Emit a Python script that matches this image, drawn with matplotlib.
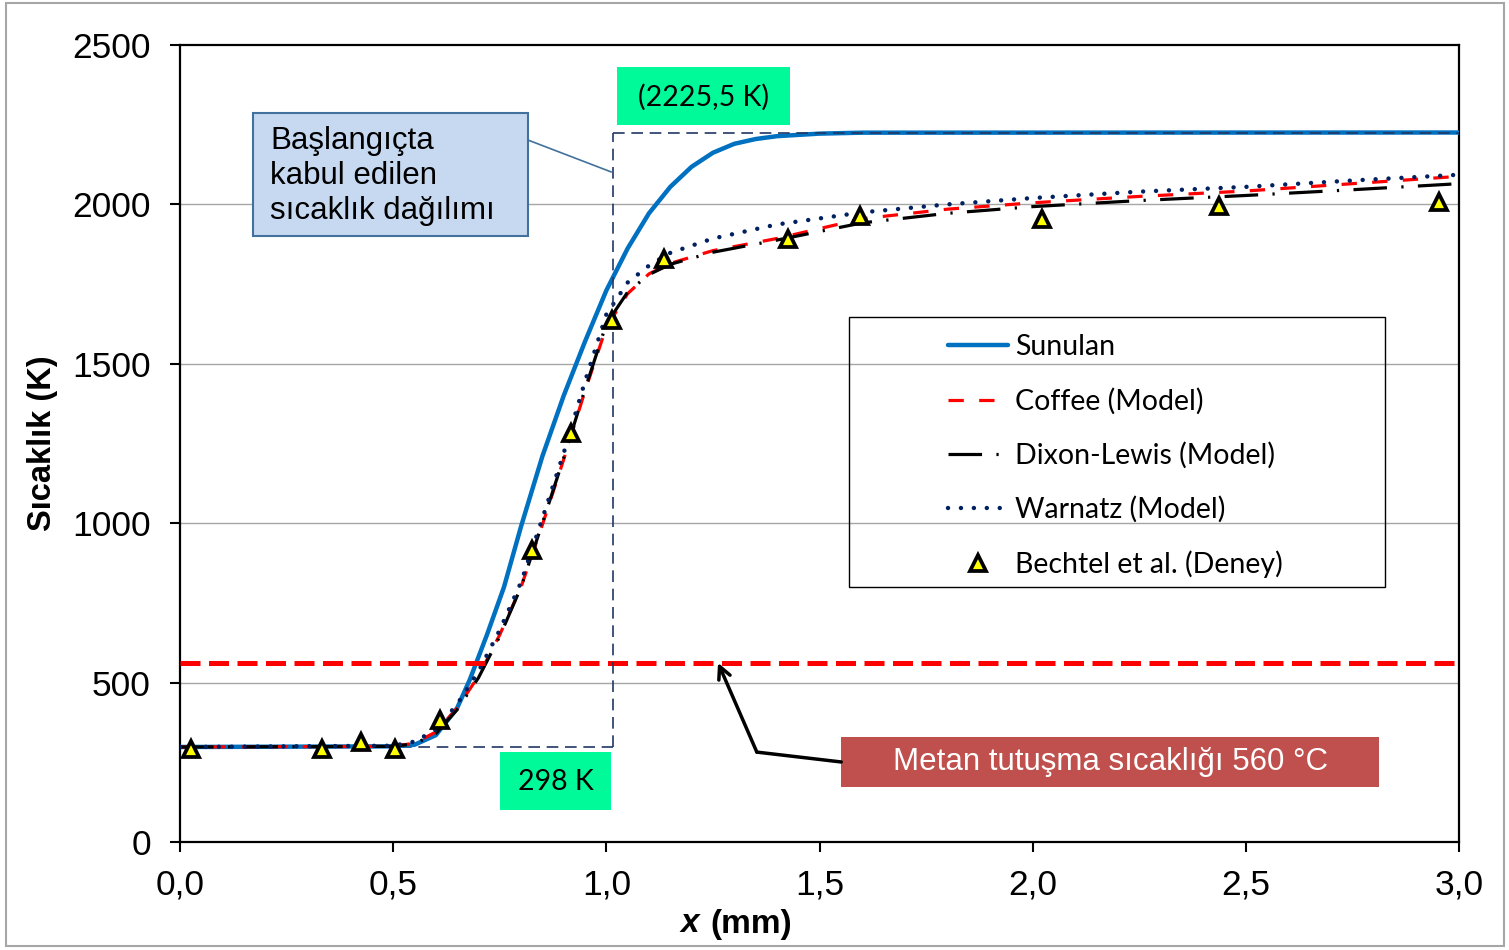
## Temperature profile of a premixed methane flame:
## present model vs. literature models and Bechtel et al. measurements.

import matplotlib.pyplot as plt
from matplotlib.patches import Rectangle
from matplotlib.lines import Line2D


## ---- data ----

x_sunulan = [0.00, 0.50, 0.55, 0.60, 0.65, 0.68, 0.72, 0.76, 0.80, 0.85, 0.90,
             0.95, 1.00, 1.05, 1.10, 1.15, 1.20, 1.25, 1.30, 1.35, 1.40, 1.50, 1.60, 3.00]
T_sunulan = [298, 300, 305, 335, 420, 510, 650, 800, 990, 1210, 1400,
             1570, 1730, 1862, 1972, 2055, 2118, 2162, 2190, 2205, 2214, 2222, 2225, 2225.5]

x_model = [0.00, 0.50, 0.55, 0.60, 0.65, 0.70, 0.75, 0.80, 0.85, 0.90, 0.95, 1.00,
           1.05, 1.10, 1.15, 1.25, 1.40, 1.60, 1.80, 2.00, 2.25, 2.50, 2.75, 3.00]
T_coffee = [298, 300, 310, 345, 420, 520, 650, 800, 995, 1200, 1415, 1615,
            1720, 1782, 1815, 1855, 1893, 1955, 1985, 2005, 2025, 2042, 2065, 2088]
T_dixon = [298, 300, 308, 340, 415, 515, 645, 800, 1000, 1205, 1420, 1625,
           1725, 1780, 1812, 1850, 1888, 1942, 1972, 1993, 2012, 2028, 2046, 2065]
T_warnatz = [298, 302, 315, 352, 432, 535, 665, 815, 1015, 1220, 1445, 1655,
             1755, 1808, 1848, 1893, 1937, 1975, 2000, 2020, 2040, 2055, 2075, 2093]

x_bechtel = [0.026, 0.333, 0.425, 0.504, 0.610, 0.826, 0.917, 1.013, 1.135,
             1.426, 1.595, 2.022, 2.437, 2.953]
T_bechtel = [292, 292, 314, 292, 383, 916, 1283, 1637, 1829,
             1891, 1964, 1954, 1995, 2007]

T_initial = 298        # K
T_adiabatic = 2225.5   # K
x_front = 1.016        # mm
T_ignition = 560

labels = ['Sunulan', 'Coffee (Model)', 'Dixon-Lewis (Model)',
          'Warnatz (Model)', 'Bechtel et al. (Deney)']

arial = ['Liberation Sans', 'DejaVu Sans']
calibri = ['Lato', 'DejaVu Sans']

fig = plt.figure(figsize=(15.09, 9.5), dpi=100)
ax = fig.add_axes([180/1509, 108/950, 1279/1509, 797/950])

# outer grey frame of the picture
fig.patches.append(Rectangle((6/1509, 4/950), 1498/1509, 943/950, transform=fig.transFigure,
                             fill=False, edgecolor='#A6A6A6', lw=1.5))

st_sun = dict(color='#0070C0', lw=3.2, solid_capstyle='round')
st_cof = dict(color='#FF0000', lw=2.3, linestyle=(0, (4.8, 4.8)))
st_dix = dict(color='black', lw=2.3, linestyle=(0, (10.5, 4.5, 0.7, 4.5)))
st_war = dict(color='#002060', lw=3.2, linestyle=(0, (0.01, 2.9)), dash_capstyle='round')
st_bec = dict(linestyle='none', marker='^', ms=11.5, mfc='#FFFF00', mec='black', mew=2.7)

ax.plot(x_sunulan, T_sunulan, zorder=3, **st_sun)
ax.plot(x_model, T_coffee, zorder=4, **st_cof)
ax.plot(x_model, T_dixon, zorder=4, **st_dix)
ax.plot(x_model, T_warnatz, zorder=4, **st_war)
ax.axhline(T_ignition, color='#FF0000', lw=3.6, linestyle=(0, (4.0, 1.7)), zorder=5)

# dashed guide lines of the assumed initial profile
dash_kw = dict(color='#1F3864', lw=1.2, linestyle=(0, (7, 4)))
ax.plot([0, x_front], [T_initial, T_initial], zorder=2, **dash_kw)
ax.plot([x_front, x_front], [T_initial, T_adiabatic], zorder=6, **dash_kw)
ax.plot([x_front, 3.0], [T_adiabatic, T_adiabatic], zorder=6, **dash_kw)

ax.plot(x_bechtel, T_bechtel, zorder=7, clip_on=False, **st_bec)

ax.set_xlim(0, 3)
ax.set_ylim(0, 2500)
ax.set_xticks([0, 0.5, 1.0, 1.5, 2.0, 2.5, 3.0])
ax.set_xticklabels(['0,0', '0,5', '1,0', '1,5', '2,0', '2,5', '3,0'])
ax.set_yticks([0, 500, 1000, 1500, 2000, 2500])
for tl in ax.get_xticklabels() + ax.get_yticklabels():
    tl.set_family(arial)
    tl.set_fontsize(25.5)
ax.tick_params(direction='out', length=7, width=1.5, pad=12)
ax.tick_params(axis='y', pad=14)
for s in ax.spines.values():
    s.set_linewidth(1.6)
for g in [500, 1000, 1500, 2000]:
    ax.axhline(g, color='#A6A6A6', lw=1, zorder=1)

ax.set_ylabel('Sıcaklık (K)', family=arial, fontsize=23.5, fontweight='bold', labelpad=10)

# x label: italic x, placed left of the axis centre as in the original
fig.text(680/1509, 1 - 924/950, 'x', family=arial, fontsize=24, fontweight='bold',
         style='italic', ha='left', va='center')
fig.text(792/1509, 1 - 924/950, '(mm)', family=arial, fontsize=24, fontweight='bold',
         ha='right', va='center')

# legend without frame, frame drawn separately
handles = [Line2D([], [], **st_sun), Line2D([], [], **st_cof), Line2D([], [], **st_dix),
           Line2D([], [], **st_war), Line2D([], [], **st_bec)]
leg = ax.legend(handles, labels, loc='upper left', bbox_to_anchor=(0.6005, 0.637),
                frameon=False, prop={'family': calibri, 'size': 20.5}, handlelength=2.1,
                handletextpad=0.25, labelspacing=0.96, borderpad=0, borderaxespad=0,
                numpoints=1)
ax.add_patch(Rectangle((0.523, 0.32), 0.419, 0.339, transform=ax.transAxes, fill=False,
                       edgecolor='black', lw=1, zorder=8))

# callout for the assumed profile
ax.add_patch(Rectangle((0.171, 1901), 0.645, 386, facecolor='#C6D9F1', edgecolor='#41719C',
                       lw=1.5, zorder=8))
ax.text(0.211, 2088, 'Başlangıçta\nkabul edilen\nsıcaklık dağılımı', family=arial,
        fontsize=22.5, va='center', ha='left', linespacing=1.22, zorder=9)
ax.plot([0.816, 1.011], [2202, 2102], color='#41719C', lw=1.2, zorder=8)

# green value boxes
ax.add_patch(Rectangle((1.025, 2249), 0.406, 182, facecolor='#00FA9A', edgecolor='none', zorder=8))
ax.text(1.228, 2336, '(2225,5 K)', family=calibri, fontsize=20.5, ha='center', va='center', zorder=9)
ax.add_patch(Rectangle((0.751, 100), 0.260, 182, facecolor='#00FA9A', edgecolor='none', zorder=8))
ax.text(0.881, 189, '298 K', family=calibri, fontsize=20.5, ha='center', va='center', zorder=9)

# ignition temperature note
ax.add_patch(Rectangle((1.551, 172), 1.262, 157, facecolor='#C0504D', edgecolor='none', zorder=8))
ax.text(2.182, 251, 'Metan tutuşma sıcaklığı 560 °C', family=arial,
        fontsize=22.5, color='white', ha='center', va='center', zorder=9)
ax.plot([1.551, 1.353], [251, 282], color='black', lw=2.5, zorder=8, solid_capstyle='round')
ax.annotate('', xy=(1.262, 562), xytext=(1.353, 282),
            arrowprops=dict(arrowstyle='->', lw=2.5, color='black', mutation_scale=22,
                            shrinkA=0, shrinkB=0), zorder=8)

fig.savefig('out.png', dpi=100)
